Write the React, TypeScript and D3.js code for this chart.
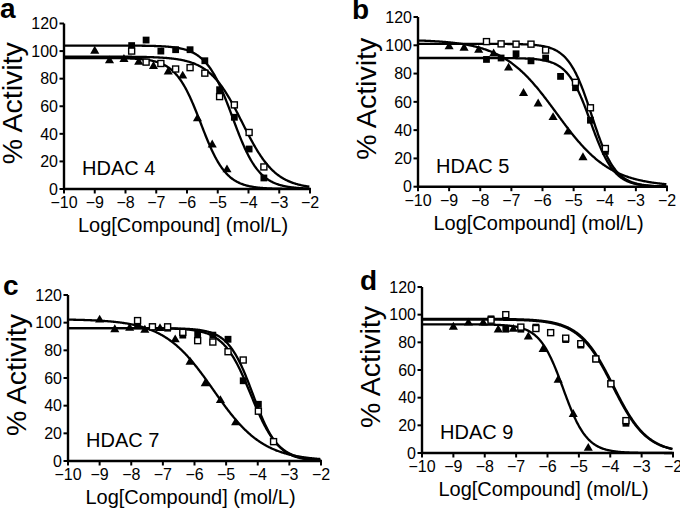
import React from "react";
import * as d3 from "d3";

// ---------- DATA ----------
const panelLetters = ["a", "b", "c", "d"];
const panelLabels = ["HDAC 4", "HDAC 5", "HDAC 7", "HDAC 9"];
const xTicks = [-10, -9, -8, -7, -6, -5, -4, -3, -2];
const yTicks = [0, 20, 40, 60, 80, 100, 120];

// log concentrations (mol/L)
const concSquares = [-7.8, -7.33, -6.85, -6.37, -5.9, -5.42, -4.94, -4.46, -3.98, -3.5];
const concTriangles = [-9, -8.52, -8.05, -7.57, -7.09, -6.61, -6.14, -5.66, -5.18, -4.7];

// % activity — filled squares
const filledA = [104, 108, 100, 101, 101, 93, 72, 52, 29, 8];
const filledB = [90, 91, 94, 89, 91, 78, 70, 47, 25, null];
const filledC = [98, 97, 96, 91, 92, 91, 88, 58, 41, 14];
const filledD = [97, 89.5, 89.5, 91, 87, 82, 78, 68, 50.4, 21.5];

// % activity — open squares
const openA = [100, 92, 91, 87, 88, 84, 67, 61, 41, 16];
const openB = [102.6, 101, 100.8, 100.8, 96.6, null, 73.8, 55.8, 27, null];
const openC = [101.5, 97, 97, 93, 87, 86, 79, 73, 36, 14];
const openD = [96, 100, 91, 90, 87, 83, 79, 68, 50, 23.4];

// % activity — triangles
const triA = [100, 93, 94, 92, 89, 85, 82, 51, 32, 14];
const triB = [99, 98, 96.5, 94, 84, 66, 58.6, 49, 38.7, 20.6];
const triC = [102, 95, 96, 94.6, 95.8, 87.7, 71.5, 56, 43.8, 27.7];
const triD = [91, 94, 94, 89, 89.5, 84, 75, 52.7, 28, 3.5];

// fitted sigmoid parameters: [top, logIC50, hill]
const fitFilled = [[104, -4.52, 1.0], [91, -4.45, 1.15], [96, -4.15, 1.1], [96.5, -3.92, 0.8]];
const fitOpen = [[96, -4.2, 0.8], [101, -4.42, 1.15], [96, -4.22, 1.0], [97, -3.9, 0.8]];
const fitTri = [[95, -5.55, 1.05], [104, -5.55, 0.5], [102.5, -5.4, 0.55], [93, -5.5, 1.15]];

const filledSets = [filledA, filledB, filledC, filledD];
const openSets = [openA, openB, openC, openD];
const triSets = [triA, triB, triC, triD];

// ---------- LAYOUT ----------
const layout = [
  { x0: 64, x1: 310, y0: 189, y1: 23.5, lx: 0, ly: 18 },
  { x0: 418, x1: 667, y0: 186.7, y1: 17, lx: 352, ly: 19 },
  { x0: 68, x1: 321, y0: 461, y1: 295, lx: 3, ly: 295 },
  { x0: 422, x1: 673, y0: 453, y1: 287, lx: 360, ly: 290 },
];

const FONT = "'Liberation Sans', Arial, Helvetica, sans-serif";
const fmt = (v: number) => (v < 0 ? "\u2212" + Math.abs(v) : String(v));

function sigmoid(x: number, p: number[]) {
  const [top, c, h] = p;
  return top / (1 + Math.pow(10, (x - c) * h));
}

function Panel({ i }: { i: number }) {
  const L = layout[i];
  const x = d3.scaleLinear().domain([-10, -2]).range([L.x0, L.x1]);
  const y = d3.scaleLinear().domain([0, 120]).range([L.y0, L.y1]);
  const xs = d3.range(-10, -2.0001, 0.02);
  const line = d3
    .line<number[]>()
    .x((d) => x(d[0]))
    .y((d) => y(d[1]))
    .curve(d3.curveLinear);
  const curves = [fitFilled[i], fitOpen[i], fitTri[i]].map((p) => line(xs.map((v) => [v, sigmoid(v, p)])) as string);
  const tri = d3.symbol().type(d3.symbolTriangle).size(36)() as string;
  const sq = 6.8;
  const midY = (L.y0 + L.y1) / 2;
  return (
    <g>
      {curves.map((d, k) => (
        <path key={k} d={d} fill="none" stroke="#000" strokeWidth={2.3} />
      ))}
      {concSquares.map((c, k) =>
        filledSets[i][k] == null ? null : (
          <rect key={"f" + k} x={x(c) - sq / 2} y={y(filledSets[i][k] as number) - sq / 2} width={sq} height={sq} fill="#000" />
        )
      )}
      {concSquares.map((c, k) =>
        openSets[i][k] == null ? null : (
          <rect key={"o" + k} x={x(c) - 3} y={y(openSets[i][k] as number) - 3} width={6} height={6} fill="#fff" stroke="#000" strokeWidth={1.4} />
        )
      )}
      {concTriangles.map((c, k) =>
        triSets[i][k] == null ? null : (
          <path key={"t" + k} d={tri} transform={`translate(${x(c)},${y(triSets[i][k] as number)})`} fill="#000" />
        )
      )}
      {/* axes */}
      <line x1={L.x0} x2={L.x1 + 1} y1={L.y0} y2={L.y0} stroke="#000" strokeWidth={2.4} />
      <line x1={L.x0} x2={L.x0} y1={L.y1} y2={L.y0 + 1} stroke="#000" strokeWidth={2.4} />
      {yTicks.map((t) => (
        <g key={"yt" + t}>
          <line x1={L.x0 - 4.5} x2={L.x0} y1={y(t)} y2={y(t)} stroke="#000" strokeWidth={2} />
          <text x={L.x0 - 6} y={y(t)} dy="0.36em" textAnchor="end" fontSize={16} fontFamily={FONT}>
            {t}
          </text>
        </g>
      ))}
      {xTicks.map((t) => (
        <g key={"xt" + t}>
          <line x1={x(t)} x2={x(t)} y1={L.y0} y2={L.y0 + 4.5} stroke="#000" strokeWidth={2} />
          <text x={x(t)} y={L.y0 + 19} textAnchor="middle" fontSize={16} fontFamily={FONT}>
            {fmt(t)}
          </text>
        </g>
      ))}
      <text x={(L.x0 + L.x1) / 2 - 4} y={L.y0 + 43} textAnchor="middle" fontSize={20} fontFamily={FONT}>
        Log[Compound] (mol/L)
      </text>
      <text
        transform={`translate(${L.x0 - 42},${midY - 3}) rotate(-90)`}
        textAnchor="middle"
        fontSize={28.5}
        fontFamily={FONT}
      >
        % Activity
      </text>
      <text x={L.x0 + 18} y={L.y0 - 14} fontSize={20} fontFamily={FONT}>
        {panelLabels[i]}
      </text>
      <text x={L.lx} y={L.ly} fontSize={28} fontWeight="bold" fontFamily={FONT}>
        {panelLetters[i]}
      </text>
    </g>
  );
}

export default function App() {
  return (
    <svg width={680} height={509} style={{ position: "absolute", left: 0, top: 0, background: "#fff" }}>
      <rect width={680} height={509} fill="#fff" />
      {[0, 1, 2, 3].map((i) => (
        <Panel key={i} i={i} />
      ))}
    </svg>
  );
}
